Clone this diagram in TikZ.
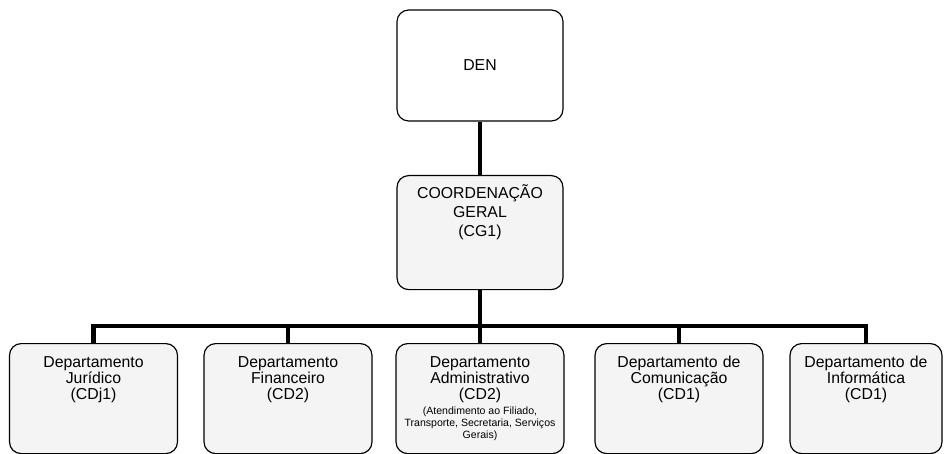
\documentclass[tikz,border=0pt]{standalone}
\usepackage{fontspec}
\setmainfont{Liberation Sans}
\usetikzlibrary{positioning}

\begin{document}
\begin{tikzpicture}[
        x=0.03cm, y=-0.03cm,
        box/.style={rectangle, draw, line width=1pt, rounded corners=10pt, align=center, fill=gray!9, inner xsep=2pt, inner ysep=4pt},
        top/.style={box, fill=white, minimum width=4.98cm, minimum height=3.33cm, font=\fontsize{13.5}{15}\selectfont},
        coord/.style={box, anchor=north, text width=4.7cm, minimum width=4.98cm, text height=0.55cm, text depth=2.59cm, font=\fontsize{13.5}{16}\selectfont},
        dept/.style={box, anchor=north, text width=4.85cm, minimum width=5.04cm, text height=0.58cm, text depth=2.44cm, font=\fontsize{13.5}{13.6}\selectfont},
        link/.style={line width=3.6pt}
        ]
        \useasboundingbox (0,0) rectangle (946,454);

        % Nodes
        \node (den) [top] at (480,65.5) {DEN};
        \node (cg) [coord] at (480,175) {COORDENAÇÃO\\GERAL\\(CG1)};
        \node (juridico) [dept] at (93.5,343) {Departamento\\Jurídico\\(CDj1)};
        \node (financeiro) [dept] at (288,343) {Departamento\\Financeiro\\(CD2)};
        \node (admin) [dept] at (480,343) {Departamento\\Administrativo\\(CD2)\par\vspace{3pt}%
            {\centering\fontsize{9}{10.2}\selectfont\spaceskip=0pt\xspaceskip=0pt (Atendimento ao Filiado,\\Transporte, Secretaria, Serviços\\Gerais)\par}};
        \node (comunicacao) [dept] at (679,343) {Departamento de\\Comunicação\\(CD1)};
        \node (informatica) [dept, minimum width=4.56cm, text width=4.4cm] at (866,343) {Departamento de\\Informática\\(CD1)};
        \coordinate (bus) at (480,326);

        % Lines
        \draw [link] (den) -- (cg);
        \draw [link] (cg) -- (admin);
        \draw [link] (juridico.north) |- (bus) -| (informatica.north);
        \draw [link] (financeiro.north) -- (financeiro.north |- bus);
        \draw [link] (comunicacao.north) -- (comunicacao.north |- bus);

\end{tikzpicture}
\end{document}
